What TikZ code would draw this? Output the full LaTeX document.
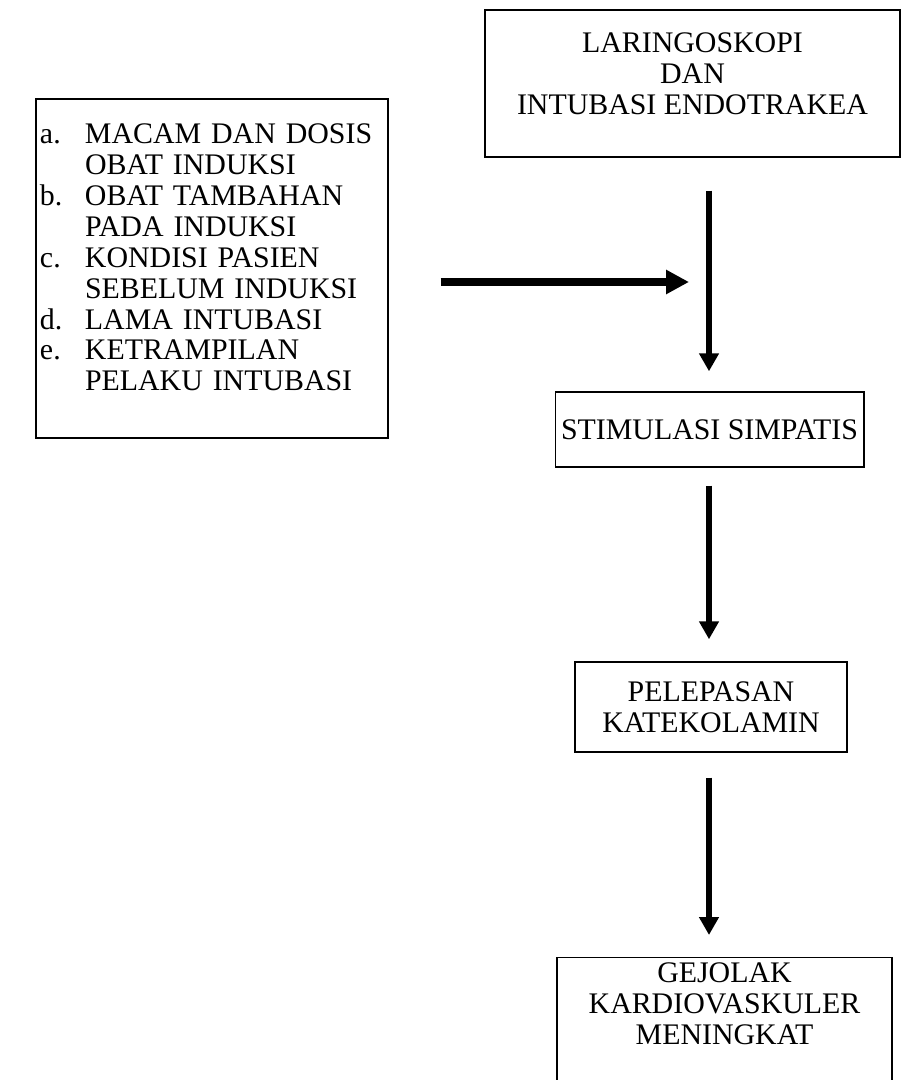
\documentclass[tikz,border=0pt]{standalone}
\usepackage{fontspec}
\setmainfont{Liberation Serif}
\usetikzlibrary{arrows.meta,positioning}

\begin{document}
\begin{tikzpicture}[
  box/.style={
    draw,
    line width=0.8pt,
    align=center,
    font=\fontsize{17}{17.6}\selectfont
  },
  flow/.style={
    line width=3pt,
    -{Triangle[length=0.36cm,width=0.38cm]}
  },
  feed/.style={
    line width=4pt,
    -{Triangle[length=0.46cm,width=0.46cm]}
  }
]
  \useasboundingbox (0,0) rectangle (18.02,-21.6);

  \node[box,minimum width=8.3cm,minimum height=2.94cm,text depth=0.38cm] (laringo) at (13.85,-1.67)
    {LARINGOSKOPI\\DAN\\INTUBASI ENDOTRAKEA};
  \node[box,align=left,text width=6.88cm,inner xsep=0.08cm,minimum height=6.78cm] (faktor) at (4.24,-5.37)
    {\noindent\raisebox{0.15cm}[\height][\depth]{\begin{tabular}{@{}p{0.9cm}@{}l@{}}
      a. & MACAM DAN DOSIS\\
         & OBAT INDUKSI\\
      b. & OBAT TAMBAHAN\\
         & PADA INDUKSI\\
      c. & KONDISI PASIEN\\
         & SEBELUM INDUKSI\\
      d. & LAMA INTUBASI\\
      e. & KETRAMPILAN\\
         & PELAKU INTUBASI
    \end{tabular}}};
  \node[box,minimum width=6.1cm,minimum height=1.5cm] (stimulasi) at (14.19,-8.59)
    {STIMULASI SIMPATIS};
  \node[box,minimum width=5.44cm,minimum height=1.8cm] (pelepasan) at (14.22,-14.14)
    {PELEPASAN\\KATEKOLAMIN};
  \node[box,anchor=north,minimum width=6.7cm,inner ysep=0.1cm,text depth=1.2cm] (gejolak) at (14.49,-19.14)
    {GEJOLAK\\KARDIOVASKULER\\MENINGKAT};

  % main line of arrows
  \coordinate (axis) at (14.18,0);
  \coordinate (join) at (13.78,-5.64);
  \draw[flow] ([yshift=-0.66cm]laringo.south -| axis) -- ([yshift=0.4cm]stimulasi.north -| axis);
  \draw[flow] ([yshift=-0.36cm]stimulasi.south -| axis) -- ([yshift=0.44cm]pelepasan.north -| axis);
  \draw[flow] ([yshift=-0.5cm]pelepasan.south -| axis) -- ([yshift=0.44cm]gejolak.north -| axis);
  \draw[feed] ([xshift=1.04cm]faktor.east |- join) -- (join);
\end{tikzpicture}
\end{document}
